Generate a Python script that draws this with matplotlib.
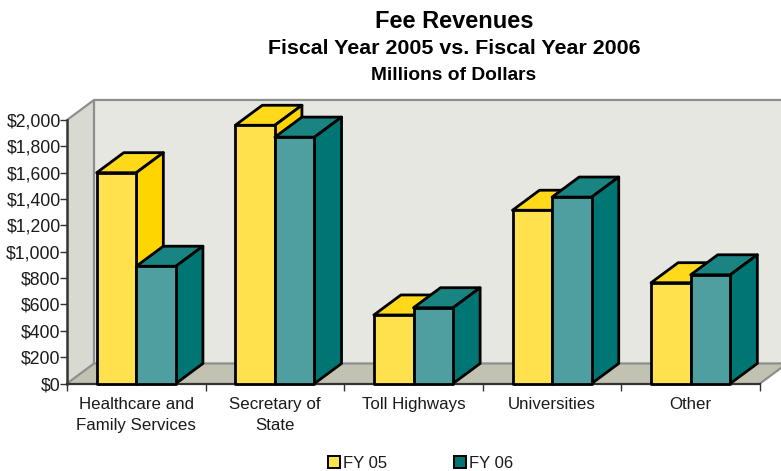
import matplotlib
matplotlib.use("Agg")
import matplotlib.pyplot as plt
from matplotlib.patches import Polygon, Patch

plt.rcParams['font.family'] = ['Liberation Sans', 'DejaVu Sans']

categories = ['Healthcare and\nFamily Services', 'Secretary of\nState', 'Toll Highways', 'Universities', 'Other']
fy05 = [1600, 1960, 520, 1315, 765]
fy06 = [890, 1870, 575, 1415, 825]
yticks = list(range(0, 2001, 200))

W, H = 781, 471
fig = plt.figure(figsize=(W / 100, H / 100), dpi=100)
# axes box in pixels: x 67-760, y 120-383.5
ax = fig.add_axes([67 / W, 1 - 383.5 / H, 693 / W, 263.5 / H])
ax.set_xlim(0, 5)
ax.set_ylim(0, 2000)
ax.patch.set_visible(False)

# 3d offset, in data units
dx = 0.195
dy = 152
bw = 0.2857

front = {'FY 05': '#ffe04d', 'FY 06': '#4f9fa0'}
top = {'FY 05': '#ffd91a', 'FY 06': '#1a8483'}
side = {'FY 05': '#ffd500', 'FY 06': '#007674'}
edge_lw = 2.0


def poly(pts, fc, ec='none', lw=0, z=1):
    ax.add_patch(Polygon(pts, closed=True, fc=fc, ec=ec, lw=lw, zorder=z, clip_on=False, joinstyle='round'))


# walls and floor
x_end = 5 + dx
poly([(0, 0), (dx, dy), (dx, 2000 + dy), (0, 2000)], '#d8d9d1', z=1)
poly([(dx, dy), (x_end, dy), (x_end, 2000 + dy), (dx, 2000 + dy)], '#e6e7e1', z=1)
poly([(0, 0), (dx, dy), (x_end, dy), (5, 0)], '#c1c2b2', z=1)
wall = '#8e8e8e'
for xs, ys in [([0, dx, x_end], [2000, 2000 + dy, 2000 + dy]),
               ([dx, dx], [dy, 2000 + dy]),
               ([0, dx, x_end], [0, dy, dy]),
               ([x_end, 5], [dy, 0])]:
    ax.plot(xs, ys, color=wall, lw=1.6, zorder=2, clip_on=False, solid_capstyle='butt')


def bar3d(x0, v, name, z):
    x1 = x0 + bw
    poly([(x0, v), (x0 + dx, v + dy), (x1 + dx, v + dy), (x1, v)], top[name], 'black', edge_lw, z)
    poly([(x1, 0), (x1 + dx, dy), (x1 + dx, v + dy), (x1, v)], side[name], 'black', edge_lw, z)
    poly([(x0, 0), (x0, v), (x1, v), (x1, 0)], front[name], 'black', edge_lw, z)


for i in range(len(categories)):
    z = 5 + i
    bar3d(i + 0.5 - bw, fy05[i], 'FY 05', z)
    bar3d(i + 0.5, fy06[i], 'FY 06', z + 0.5)

# axes
for s in ['top', 'right']:
    ax.spines[s].set_visible(False)
ax.spines['left'].set_color('#333333')
ax.spines['left'].set_linewidth(1.8)
ax.spines['bottom'].set_color('#333333')
ax.spines['bottom'].set_linewidth(1.6)
ax.set_yticks(yticks)
ax.set_yticklabels(['$' + format(t, ',') for t in yticks], fontsize=12.7, color='#1a1a1a')
ax.set_xticks(range(6))
ax.set_xticklabels([''] * 6)
ax.set_xticks([i + 0.5 for i in range(5)], minor=True)
ax.set_xticklabels(categories, minor=True, fontsize=12.2, color='#1a1a1a', linespacing=1.52)
ax.tick_params(axis='x', which='minor', length=0, pad=9.5)
ax.tick_params(axis='x', which='major', length=5, width=1, color='#333333', direction='out')
ax.tick_params(axis='y', length=5, width=1, color='#333333', pad=-0.5)

# titles
fig.text(454 / W, 1 - 21 / H, 'Fee Revenues', ha='center', va='center', fontsize=17, fontweight='bold', color='black')
fig.text(454 / W, 1 - 49 / H, 'Fiscal Year 2005 vs. Fiscal Year 2006', ha='center', va='center', fontsize=15.4, fontweight='bold', color='black')
fig.text(454 / W, 1 - 75 / H, 'Millions of Dollars', ha='center', va='center', fontsize=13.8, fontweight='bold', color='black')

handles = [Patch(fc=front['FY 05'], ec='black', lw=1.4, label='FY 05'),
           Patch(fc=side['FY 06'], ec='black', lw=1.4, label='FY 06')]
fig.legend(handles=handles, ncol=2, loc='center', bbox_to_anchor=(420.5 / W, 1 - 463 / H), frameon=False,
           fontsize=12, handlelength=0.72, handleheight=0.72, handletextpad=0.2, columnspacing=4.0,
           labelcolor='#1a1a1a', borderpad=0)

fig.savefig('out.png', dpi=100)
